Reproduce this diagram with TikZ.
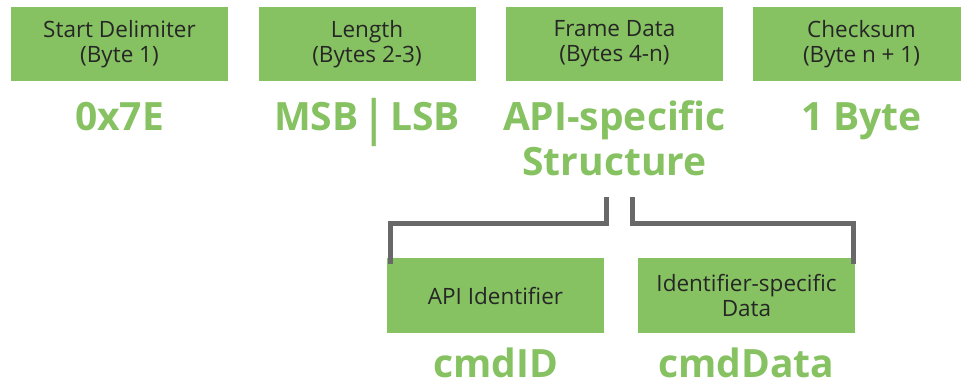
\documentclass[tikz,border=0pt]{standalone}
\usepackage{fontspec}
\usepackage{graphicx}
\setmainfont{Open Sans}
\usetikzlibrary{positioning}
\definecolor{fieldgreen}{RGB}{134,194,97}
\definecolor{bracketgray}{RGB}{104,104,104}

\begin{document}
\begin{tikzpicture}[x=1pt,y=-1pt,
    field node/.style={fill=fieldgreen,inner sep=0pt,minimum width=217pt,minimum height=74pt,align=center,text=black!85,font=\fontsize{22.5}{25}\selectfont},
    value node/.style={anchor=base,inner sep=0pt,align=center,text=fieldgreen,font=\bfseries\fontsize{39}{45}\selectfont},
    bracket/.style={draw=bracketgray,line width=5pt}]

    \useasboundingbox (0,0) rectangle (961,388);

    % frame fields
    \node[field node] (start) at (119.5,44) {Start Delimiter\\(Byte 1)};
    \node[field node] (length) at (367,44) {Length\\(Bytes 2-3)};
    \node[field node] (frame) at (614.5,44) {Frame Data\\(Bytes 4-n)};
    \node[field node] (checksum) at (861.5,44) {Checksum\\(Byte n + 1)};

    % values
    \node[value node] (delim) at (119.5,130) {0x7E};
    \node[value node] (msblsb) at (367,130) {MSB\hspace{5pt}\raisebox{-5pt}{\scalebox{1}[1.26]{|}}\hspace{5pt}LSB};
    \node[value node] (struct) at (614.5,175) {API-specific\\Structure};
    \node[value node] (onebyte) at (861.5,130) {1 Byte};

    % frame data parts
    \node[field node,minimum height=75pt] (apiid) at (495.5,295.5) {API Identifier};
    \node[field node,minimum height=75pt] (iddata) at (746.5,295.5) {Identifier-specific\\Data};
    \node[value node] (cmdid) at (495.5,377) {cmdID};
    \node[value node] (cmddata) at (746.5,377) {cmdData};

    \coordinate (lsplit) at (606.5,197);
    \coordinate (rsplit) at (632.5,197);

    \draw[bracket] (lsplit) -- ++(0,26) -| ([xshift=3.5pt,yshift=-6pt]apiid.north west);
    \draw[bracket] (rsplit) -- ++(0,26) -| ([xshift=-1.5pt,yshift=-6pt]iddata.north east);
\end{tikzpicture}
\end{document}
